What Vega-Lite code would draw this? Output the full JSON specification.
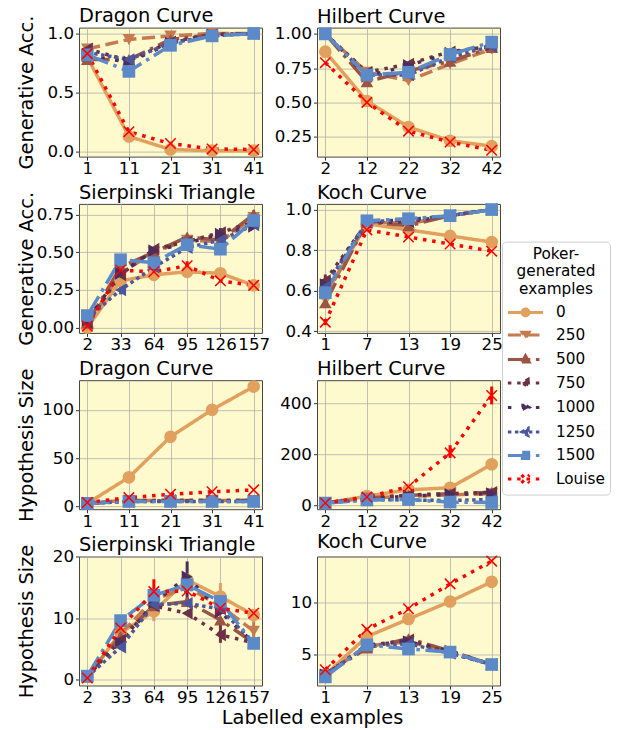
{
"$schema": "https://vega.github.io/schema/vega-lite/v6.json",
"padding": {"left": 15, "top": 5.6, "right": 5, "bottom": 4},
"background": "white",
"columns": 2,
"spacing": {"row": 47.3, "column": 55},
"bounds": "flush",
"data": {"values": [
{"p":"DA","s":"0","x":1,"y":0.80},{"p":"DA","s":"0","x":11,"y":0.13},{"p":"DA","s":"0","x":21,"y":0.02},{"p":"DA","s":"0","x":31,"y":0.01},{"p":"DA","s":"0","x":41,"y":0.01},
{"p":"DA","s":"250","x":1,"y":0.87},{"p":"DA","s":"250","x":11,"y":0.95},{"p":"DA","s":"250","x":21,"y":0.98},{"p":"DA","s":"250","x":31,"y":1.0},{"p":"DA","s":"250","x":41,"y":1.0},
{"p":"DA","s":"500","x":1,"y":0.78},{"p":"DA","s":"500","x":11,"y":0.78},{"p":"DA","s":"500","x":21,"y":0.95},{"p":"DA","s":"500","x":31,"y":0.99},{"p":"DA","s":"500","x":41,"y":1.0},
{"p":"DA","s":"750","x":1,"y":0.87},{"p":"DA","s":"750","x":11,"y":0.77},{"p":"DA","s":"750","x":21,"y":0.93},{"p":"DA","s":"750","x":31,"y":0.99},{"p":"DA","s":"750","x":41,"y":1.0},
{"p":"DA","s":"1000","x":1,"y":0.81},{"p":"DA","s":"1000","x":11,"y":0.76},{"p":"DA","s":"1000","x":21,"y":0.92},{"p":"DA","s":"1000","x":31,"y":0.99},{"p":"DA","s":"1000","x":41,"y":1.0},
{"p":"DA","s":"1250","x":1,"y":0.84},{"p":"DA","s":"1250","x":11,"y":0.78},{"p":"DA","s":"1250","x":21,"y":0.92},{"p":"DA","s":"1250","x":31,"y":0.98},{"p":"DA","s":"1250","x":41,"y":1.0},
{"p":"DA","s":"1500","x":1,"y":0.82},{"p":"DA","s":"1500","x":11,"y":0.68},{"p":"DA","s":"1500","x":21,"y":0.90},{"p":"DA","s":"1500","x":31,"y":0.98},{"p":"DA","s":"1500","x":41,"y":1.0},
{"p":"DA","s":"Louise","x":1,"y":0.83},{"p":"DA","s":"Louise","x":11,"y":0.17},{"p":"DA","s":"Louise","x":21,"y":0.07},{"p":"DA","s":"Louise","x":31,"y":0.025},{"p":"DA","s":"Louise","x":41,"y":0.02},

{"p":"HA","s":"0","x":2,"y":0.87},{"p":"HA","s":"0","x":12,"y":0.51},{"p":"HA","s":"0","x":22,"y":0.32},{"p":"HA","s":"0","x":32,"y":0.22},{"p":"HA","s":"0","x":42,"y":0.18},
{"p":"HA","s":"250","x":2,"y":1.0},{"p":"HA","s":"250","x":12,"y":0.72},{"p":"HA","s":"250","x":22,"y":0.66},{"p":"HA","s":"250","x":32,"y":0.78},{"p":"HA","s":"250","x":42,"y":0.89},
{"p":"HA","s":"500","x":2,"y":1.0},{"p":"HA","s":"500","x":12,"y":0.65},{"p":"HA","s":"500","x":22,"y":0.73},{"p":"HA","s":"500","x":32,"y":0.80},{"p":"HA","s":"500","x":42,"y":0.90},
{"p":"HA","s":"750","x":2,"y":1.0},{"p":"HA","s":"750","x":12,"y":0.72},{"p":"HA","s":"750","x":22,"y":0.78},{"p":"HA","s":"750","x":32,"y":0.87},{"p":"HA","s":"750","x":42,"y":0.91},
{"p":"HA","s":"1000","x":2,"y":1.0},{"p":"HA","s":"1000","x":12,"y":0.69},{"p":"HA","s":"1000","x":22,"y":0.77},{"p":"HA","s":"1000","x":32,"y":0.86},{"p":"HA","s":"1000","x":42,"y":0.92},
{"p":"HA","s":"1250","x":2,"y":1.0},{"p":"HA","s":"1250","x":12,"y":0.70},{"p":"HA","s":"1250","x":22,"y":0.70},{"p":"HA","s":"1250","x":32,"y":0.83},{"p":"HA","s":"1250","x":42,"y":0.91},
{"p":"HA","s":"1500","x":2,"y":1.0},{"p":"HA","s":"1500","x":12,"y":0.70},{"p":"HA","s":"1500","x":22,"y":0.72},{"p":"HA","s":"1500","x":32,"y":0.85},{"p":"HA","s":"1500","x":42,"y":0.94},
{"p":"HA","s":"Louise","x":2,"y":0.79},{"p":"HA","s":"Louise","x":12,"y":0.50},{"p":"HA","s":"Louise","x":22,"y":0.29},{"p":"HA","s":"Louise","x":32,"y":0.21},{"p":"HA","s":"Louise","x":42,"y":0.15},

{"p":"SA","s":"0","x":2,"y":0.0},{"p":"SA","s":"0","x":33,"y":0.31},{"p":"SA","s":"0","x":64,"y":0.35},{"p":"SA","s":"0","x":95,"y":0.37},{"p":"SA","s":"0","x":126,"y":0.36},{"p":"SA","s":"0","x":157,"y":0.28},
{"p":"SA","s":"250","x":2,"y":0.02},{"p":"SA","s":"250","x":33,"y":0.36},{"p":"SA","s":"250","x":64,"y":0.50},{"p":"SA","s":"250","x":95,"y":0.58},{"p":"SA","s":"250","x":126,"y":0.57},{"p":"SA","s":"250","x":157,"y":0.73},
{"p":"SA","s":"500","x":2,"y":0.03},{"p":"SA","s":"500","x":33,"y":0.40},{"p":"SA","s":"500","x":64,"y":0.50},{"p":"SA","s":"500","x":95,"y":0.60},{"p":"SA","s":"500","x":126,"y":0.58},{"p":"SA","s":"500","x":157,"y":0.75,"lo":0.72,"hi":0.78},
{"p":"SA","s":"750","x":2,"y":0.03},{"p":"SA","s":"750","x":33,"y":0.35},{"p":"SA","s":"750","x":64,"y":0.52},{"p":"SA","s":"750","x":95,"y":0.57},{"p":"SA","s":"750","x":126,"y":0.63},{"p":"SA","s":"750","x":157,"y":0.70},
{"p":"SA","s":"1000","x":2,"y":0.05},{"p":"SA","s":"1000","x":33,"y":0.36},{"p":"SA","s":"1000","x":64,"y":0.51},{"p":"SA","s":"1000","x":95,"y":0.56},{"p":"SA","s":"1000","x":126,"y":0.62,"lo":0.58,"hi":0.66},{"p":"SA","s":"1000","x":157,"y":0.67},
{"p":"SA","s":"1250","x":2,"y":0.06},{"p":"SA","s":"1250","x":33,"y":0.25,"lo":0.22,"hi":0.27},{"p":"SA","s":"1250","x":64,"y":0.40},{"p":"SA","s":"1250","x":95,"y":0.53},{"p":"SA","s":"1250","x":126,"y":0.58},{"p":"SA","s":"1250","x":157,"y":0.68},
{"p":"SA","s":"1500","x":2,"y":0.08},{"p":"SA","s":"1500","x":33,"y":0.45},{"p":"SA","s":"1500","x":64,"y":0.43},{"p":"SA","s":"1500","x":95,"y":0.55},{"p":"SA","s":"1500","x":126,"y":0.52},{"p":"SA","s":"1500","x":157,"y":0.71},
{"p":"SA","s":"Louise","x":2,"y":0.01},{"p":"SA","s":"Louise","x":33,"y":0.38},{"p":"SA","s":"Louise","x":64,"y":0.37},{"p":"SA","s":"Louise","x":95,"y":0.41,"lo":0.38,"hi":0.44},{"p":"SA","s":"Louise","x":126,"y":0.31},{"p":"SA","s":"Louise","x":157,"y":0.28},

{"p":"KA","s":"0","x":1,"y":0.58},{"p":"KA","s":"0","x":7,"y":0.93},{"p":"KA","s":"0","x":13,"y":0.90},{"p":"KA","s":"0","x":19,"y":0.87},{"p":"KA","s":"0","x":25,"y":0.84},
{"p":"KA","s":"250","x":1,"y":0.57},{"p":"KA","s":"250","x":7,"y":0.94},{"p":"KA","s":"250","x":13,"y":0.93},{"p":"KA","s":"250","x":19,"y":0.97},{"p":"KA","s":"250","x":25,"y":1.0},
{"p":"KA","s":"500","x":1,"y":0.54,"lo":0.52,"hi":0.60},{"p":"KA","s":"500","x":7,"y":0.94},{"p":"KA","s":"500","x":13,"y":0.92},{"p":"KA","s":"500","x":19,"y":0.97},{"p":"KA","s":"500","x":25,"y":1.0},
{"p":"KA","s":"750","x":1,"y":0.65,"lo":0.60,"hi":0.68},{"p":"KA","s":"750","x":7,"y":0.935},{"p":"KA","s":"750","x":13,"y":0.94},{"p":"KA","s":"750","x":19,"y":0.97},{"p":"KA","s":"750","x":25,"y":1.0},
{"p":"KA","s":"1000","x":1,"y":0.63},{"p":"KA","s":"1000","x":7,"y":0.94},{"p":"KA","s":"1000","x":13,"y":0.95},{"p":"KA","s":"1000","x":19,"y":0.97},{"p":"KA","s":"1000","x":25,"y":1.0},
{"p":"KA","s":"1250","x":1,"y":0.62},{"p":"KA","s":"1250","x":7,"y":0.94},{"p":"KA","s":"1250","x":13,"y":0.95},{"p":"KA","s":"1250","x":19,"y":0.97},{"p":"KA","s":"1250","x":25,"y":1.0},
{"p":"KA","s":"1500","x":1,"y":0.59},{"p":"KA","s":"1500","x":7,"y":0.945},{"p":"KA","s":"1500","x":13,"y":0.955},{"p":"KA","s":"1500","x":19,"y":0.97},{"p":"KA","s":"1500","x":25,"y":1.0},
{"p":"KA","s":"Louise","x":1,"y":0.445,"lo":0.43,"hi":0.46},{"p":"KA","s":"Louise","x":7,"y":0.90},{"p":"KA","s":"Louise","x":13,"y":0.865},{"p":"KA","s":"Louise","x":19,"y":0.83},{"p":"KA","s":"Louise","x":25,"y":0.795},

{"p":"DS","s":"0","x":1,"y":3},{"p":"DS","s":"0","x":11,"y":30},{"p":"DS","s":"0","x":21,"y":72},{"p":"DS","s":"0","x":31,"y":100},{"p":"DS","s":"0","x":41,"y":124},
{"p":"DS","s":"250","x":1,"y":4},{"p":"DS","s":"250","x":11,"y":6},{"p":"DS","s":"250","x":21,"y":6},{"p":"DS","s":"250","x":31,"y":6},{"p":"DS","s":"250","x":41,"y":6},
{"p":"DS","s":"500","x":1,"y":3},{"p":"DS","s":"500","x":11,"y":6},{"p":"DS","s":"500","x":21,"y":6},{"p":"DS","s":"500","x":31,"y":6},{"p":"DS","s":"500","x":41,"y":6},
{"p":"DS","s":"750","x":1,"y":3},{"p":"DS","s":"750","x":11,"y":5.5},{"p":"DS","s":"750","x":21,"y":6},{"p":"DS","s":"750","x":31,"y":6},{"p":"DS","s":"750","x":41,"y":6},
{"p":"DS","s":"1000","x":1,"y":3},{"p":"DS","s":"1000","x":11,"y":5.5},{"p":"DS","s":"1000","x":21,"y":5.5},{"p":"DS","s":"1000","x":31,"y":5.5},{"p":"DS","s":"1000","x":41,"y":5.5},
{"p":"DS","s":"1250","x":1,"y":3},{"p":"DS","s":"1250","x":11,"y":5},{"p":"DS","s":"1250","x":21,"y":5},{"p":"DS","s":"1250","x":31,"y":5},{"p":"DS","s":"1250","x":41,"y":5},
{"p":"DS","s":"1500","x":1,"y":3},{"p":"DS","s":"1500","x":11,"y":5},{"p":"DS","s":"1500","x":21,"y":5},{"p":"DS","s":"1500","x":31,"y":5},{"p":"DS","s":"1500","x":41,"y":5},
{"p":"DS","s":"Louise","x":1,"y":4},{"p":"DS","s":"Louise","x":11,"y":9},{"p":"DS","s":"Louise","x":21,"y":12.5},{"p":"DS","s":"Louise","x":31,"y":15},{"p":"DS","s":"Louise","x":41,"y":17},

{"p":"HS","s":"0","x":2,"y":8},{"p":"HS","s":"0","x":12,"y":35},{"p":"HS","s":"0","x":22,"y":60},{"p":"HS","s":"0","x":32,"y":68},{"p":"HS","s":"0","x":42,"y":160},
{"p":"HS","s":"250","x":2,"y":8},{"p":"HS","s":"250","x":12,"y":28},{"p":"HS","s":"250","x":22,"y":35},{"p":"HS","s":"250","x":32,"y":40},{"p":"HS","s":"250","x":42,"y":45},
{"p":"HS","s":"500","x":2,"y":8},{"p":"HS","s":"500","x":12,"y":28},{"p":"HS","s":"500","x":22,"y":38},{"p":"HS","s":"500","x":32,"y":45},{"p":"HS","s":"500","x":42,"y":50},
{"p":"HS","s":"750","x":2,"y":8},{"p":"HS","s":"750","x":12,"y":27},{"p":"HS","s":"750","x":22,"y":40},{"p":"HS","s":"750","x":32,"y":45},{"p":"HS","s":"750","x":42,"y":50},
{"p":"HS","s":"1000","x":2,"y":8},{"p":"HS","s":"1000","x":12,"y":25},{"p":"HS","s":"1000","x":22,"y":35},{"p":"HS","s":"1000","x":32,"y":42},{"p":"HS","s":"1000","x":42,"y":45},
{"p":"HS","s":"1250","x":2,"y":8},{"p":"HS","s":"1250","x":12,"y":22},{"p":"HS","s":"1250","x":22,"y":20},{"p":"HS","s":"1250","x":32,"y":18},{"p":"HS","s":"1250","x":42,"y":22},
{"p":"HS","s":"1500","x":2,"y":8},{"p":"HS","s":"1500","x":12,"y":20},{"p":"HS","s":"1500","x":22,"y":22},{"p":"HS","s":"1500","x":32,"y":12},{"p":"HS","s":"1500","x":42,"y":10},
{"p":"HS","s":"Louise","x":2,"y":8},{"p":"HS","s":"Louise","x":12,"y":32},{"p":"HS","s":"Louise","x":22,"y":72},{"p":"HS","s":"Louise","x":32,"y":205,"lo":185,"hi":235},{"p":"HS","s":"Louise","x":42,"y":430,"lo":395,"hi":465},

{"p":"SS","s":"0","x":2,"y":0.5},{"p":"SS","s":"0","x":33,"y":7.6},{"p":"SS","s":"0","x":64,"y":11.1,"lo":9.5,"hi":12.5},{"p":"SS","s":"0","x":95,"y":16.2},{"p":"SS","s":"0","x":126,"y":13.5,"lo":11,"hi":15.7},{"p":"SS","s":"0","x":157,"y":10.5},
{"p":"SS","s":"250","x":2,"y":0.5},{"p":"SS","s":"250","x":33,"y":7.5},{"p":"SS","s":"250","x":64,"y":13},{"p":"SS","s":"250","x":95,"y":15},{"p":"SS","s":"250","x":126,"y":12},{"p":"SS","s":"250","x":157,"y":7.9,"lo":6.8,"hi":9.5},
{"p":"SS","s":"500","x":2,"y":0.5},{"p":"SS","s":"500","x":33,"y":7},{"p":"SS","s":"500","x":64,"y":12},{"p":"SS","s":"500","x":95,"y":12.7},{"p":"SS","s":"500","x":126,"y":9.7},{"p":"SS","s":"500","x":157,"y":6},
{"p":"SS","s":"750","x":2,"y":0.5},{"p":"SS","s":"750","x":33,"y":6.5},{"p":"SS","s":"750","x":64,"y":12},{"p":"SS","s":"750","x":95,"y":10.8},{"p":"SS","s":"750","x":126,"y":7.3,"lo":6,"hi":9},{"p":"SS","s":"750","x":157,"y":6},
{"p":"SS","s":"1000","x":2,"y":0.5},{"p":"SS","s":"1000","x":33,"y":6},{"p":"SS","s":"1000","x":64,"y":12.5},{"p":"SS","s":"1000","x":95,"y":16.7,"lo":12.5,"hi":19.2},{"p":"SS","s":"1000","x":126,"y":11},{"p":"SS","s":"1000","x":157,"y":6},
{"p":"SS","s":"1250","x":2,"y":0.5},{"p":"SS","s":"1250","x":33,"y":5.3},{"p":"SS","s":"1250","x":64,"y":12.2},{"p":"SS","s":"1250","x":95,"y":12.4},{"p":"SS","s":"1250","x":126,"y":11.5},{"p":"SS","s":"1250","x":157,"y":6},
{"p":"SS","s":"1500","x":2,"y":0.6},{"p":"SS","s":"1500","x":33,"y":9.6,"lo":7.8,"hi":10.5},{"p":"SS","s":"1500","x":64,"y":13.7},{"p":"SS","s":"1500","x":95,"y":15.4},{"p":"SS","s":"1500","x":126,"y":12.7},{"p":"SS","s":"1500","x":157,"y":5.9},
{"p":"SS","s":"Louise","x":2,"y":0.3},{"p":"SS","s":"Louise","x":33,"y":8.4},{"p":"SS","s":"Louise","x":64,"y":14.3,"lo":12.4,"hi":16.3},{"p":"SS","s":"Louise","x":95,"y":14.4},{"p":"SS","s":"Louise","x":126,"y":11.6},{"p":"SS","s":"Louise","x":157,"y":10.8},

{"p":"KS","s":"0","x":1,"y":3},{"p":"KS","s":"0","x":7,"y":6.7},{"p":"KS","s":"0","x":13,"y":8.4},{"p":"KS","s":"0","x":19,"y":10.1},{"p":"KS","s":"0","x":25,"y":12.0},
{"p":"KS","s":"250","x":1,"y":3},{"p":"KS","s":"250","x":7,"y":5.8},{"p":"KS","s":"250","x":13,"y":6.2},{"p":"KS","s":"250","x":19,"y":5.2},{"p":"KS","s":"250","x":25,"y":4.0},
{"p":"KS","s":"500","x":1,"y":3},{"p":"KS","s":"500","x":7,"y":5.6},{"p":"KS","s":"500","x":13,"y":6.5},{"p":"KS","s":"500","x":19,"y":5.3},{"p":"KS","s":"500","x":25,"y":4.0},
{"p":"KS","s":"750","x":1,"y":3},{"p":"KS","s":"750","x":7,"y":5.8},{"p":"KS","s":"750","x":13,"y":6.4},{"p":"KS","s":"750","x":19,"y":5.1},{"p":"KS","s":"750","x":25,"y":4.0},
{"p":"KS","s":"1000","x":1,"y":3},{"p":"KS","s":"1000","x":7,"y":5.9},{"p":"KS","s":"1000","x":13,"y":6.2},{"p":"KS","s":"1000","x":19,"y":5.3},{"p":"KS","s":"1000","x":25,"y":4.0},
{"p":"KS","s":"1250","x":1,"y":3},{"p":"KS","s":"1250","x":7,"y":5.8},{"p":"KS","s":"1250","x":13,"y":6.0},{"p":"KS","s":"1250","x":19,"y":5.1},{"p":"KS","s":"1250","x":25,"y":4.0},
{"p":"KS","s":"1500","x":1,"y":2.8},{"p":"KS","s":"1500","x":7,"y":5.9},{"p":"KS","s":"1500","x":13,"y":5.5},{"p":"KS","s":"1500","x":19,"y":5.2},{"p":"KS","s":"1500","x":25,"y":4.0},
{"p":"KS","s":"Louise","x":1,"y":3.5},{"p":"KS","s":"Louise","x":7,"y":7.4},{"p":"KS","s":"Louise","x":13,"y":9.4},{"p":"KS","s":"Louise","x":19,"y":11.8},{"p":"KS","s":"Louise","x":25,"y":14.0}
]},
"concat": [
{"title": {"text": "Dragon Curve", "offset": -11.7}, "width": 183, "height": 129,
 "transform": [{"filter": "datum.p === 'DA'"}],
 "encoding": {
  "x": {"field": "x", "type": "quantitative", "scale": {"domain": [-1, 43], "nice": false, "zero": false}, "axis": {"values": [1,11,21,31,41], "title": null}},
  "y": {"field": "y", "type": "quantitative", "scale": {"domain": [-0.04, 1.05], "nice": false, "zero": false}, "axis": {"values": [0,0.5,1], "format": ".1f", "title": "Generative Acc."}}},
 "layer": [
  {"mark": {"type": "line", "strokeWidth": 3.5, "strokeCap": "butt"},
   "encoding": {
    "color": {"field": "s", "type": "nominal", "scale": {"domain": ["0","250","500","750","1000","1250","1500","Louise"], "range": ["#E2A05F","#C57A50","#9C5545","#6D3045","#4B2D5E","#4B569C","#5C89C8","#FF0000"]},
     "legend": {"title": ["Poker-","generated","examples"], "orient": "none", "legendX": 423, "legendY": 214,
      "encode": {"symbols": {"update": {
        "shape": {"signal": "datum.value==='0'?'M-2.2,0H2.2M0.42,0A0.42,0.42,0,1,1,-0.42,0A0.42,0.42,0,1,1,0.42,0Z':datum.value==='250'?'M-2.2,0H-0.575M0.125,0H1.75M-0.45,-0.33L0.45,-0.33L0,0.45Z':datum.value==='500'?'M-2.2,0H0.6M1.3,0H1.74M-0.45,0.33L0.45,0.33L0,-0.45Z':datum.value==='750'?'M-2.2,0H-1.76M-1.04,0H-0.6M0.125,0H0.56M1.29,0H1.72M0.33,-0.45L0.33,0.45L-0.45,0Z':datum.value==='1000'?'M-2.2,0H-1.76M-0.45,0H-0.01M1.3,0H1.74M-0.33,-0.45L-0.33,0.45L0.45,0Z':datum.value==='1250'?'M-2.2,0H-1.76M-1.33,0H-0.89M-0.45,0H-0.01M0.43,0H0.86M1.3,0H1.74M0.33,-0.45L0.33,0.45L-0.45,0Z':datum.value==='1500'?'M-2.2,0H0.6M1.3,0H1.74M-0.4,-0.4H0.4V0.4H-0.4Z':'M-2.2,0H-1.76M-1.04,0H-0.6M0.125,0H0.56M1.29,0H1.72M-0.5,-0.5L0.5,0.5M-0.5,0.5L0.5,-0.5'"},
        "fill": {"scale": "color", "field": "value"},
        "stroke": {"scale": "color", "field": "value"},
        "strokeDash": {"value": [1, 0]},
        "strokeWidth": {"value": 3},
        "opacity": {"value": 1}}}}}},
    "strokeDash": {"field": "s", "type": "nominal", "scale": {"domain": ["0","250","500","750","1000","1250","1500","Louise"], "range": [[1,0],[13,5.6],[22.4,5.6,3.5,5.6],[3.5,5.8],[3.5,10.5],[3.5,3.5],[22.4,5.6,3.5,5.6],[3.5,5.8]]}, "legend": null}}},
  {"transform": [{"filter": "datum.s !== 'Louise'"}], "mark": {"type": "point", "filled": true, "size": 160, "opacity": 1},
   "encoding": {"color": {"field": "s", "type": "nominal", "legend": null},
    "shape": {"field": "s", "type": "nominal", "scale": {"domain": ["0","250","500","750","1000","1250","1500"], "range": ["circle","triangle-down","triangle-up","triangle-left","triangle-right","triangle-left","square"]}, "legend": null}}},
  {"transform": [{"filter": "datum.s === 'Louise'"}], "mark": {"type": "point", "shape": "M-1,-1L1,1M-1,1L1,-1", "filled": false, "color": "#FF0000", "strokeWidth": 1.5, "size": 110, "opacity": 1}}
 ]},
{"title": {"text": "Hilbert Curve", "offset": -1.05}, "width": 183, "height": 129,
 "transform": [{"filter": "datum.p === 'HA'"}],
 "encoding": {
  "x": {"field": "x", "type": "quantitative", "scale": {"domain": [0, 44], "nice": false, "zero": false}, "axis": {"values": [2,12,22,32,42], "title": null}},
  "y": {"field": "y", "type": "quantitative", "scale": {"domain": [0.104, 1.046], "nice": false, "zero": false}, "axis": {"values": [0.25,0.5,0.75,1], "format": ".2f", "title": null}}},
 "layer": [
  {"mark": {"type": "line", "strokeWidth": 3.5, "strokeCap": "butt"},
   "encoding": {"color": {"field": "s", "type": "nominal", "legend": null}, "strokeDash": {"field": "s", "type": "nominal", "legend": null}}},
  {"transform": [{"filter": "datum.s !== 'Louise'"}], "mark": {"type": "point", "filled": true, "size": 160, "opacity": 1},
   "encoding": {"color": {"field": "s", "type": "nominal", "legend": null}, "shape": {"field": "s", "type": "nominal", "legend": null}}},
  {"transform": [{"filter": "datum.s === 'Louise'"}], "mark": {"type": "point", "shape": "M-1,-1L1,1M-1,1L1,-1", "filled": false, "color": "#FF0000", "strokeWidth": 1.5, "size": 110, "opacity": 1}}
 ]},
{"title": {"text": "Sierpinski Triangle", "offset": -11.7}, "width": 183, "height": 129,
 "transform": [{"filter": "datum.p === 'SA'"}],
 "encoding": {
  "x": {"field": "x", "type": "quantitative", "scale": {"domain": [-5.75, 164.75], "nice": false, "zero": false}, "axis": {"values": [2,33,64,95,126,157], "title": null}},
  "y": {"field": "y", "type": "quantitative", "scale": {"domain": [-0.035, 0.82], "nice": false, "zero": false}, "axis": {"values": [0,0.25,0.5,0.75], "format": ".2f", "title": "Generative Acc."}}},
 "layer": [
  {"transform": [{"filter": "isValid(datum.lo)"}], "mark": {"type": "rule", "strokeWidth": 3},
   "encoding": {"y": {"field": "lo", "type": "quantitative"}, "y2": {"field": "hi"}, "color": {"field": "s", "type": "nominal", "legend": null}}},
  {"mark": {"type": "line", "strokeWidth": 3.5, "strokeCap": "butt"},
   "encoding": {"color": {"field": "s", "type": "nominal", "legend": null}, "strokeDash": {"field": "s", "type": "nominal", "legend": null}}},
  {"transform": [{"filter": "datum.s !== 'Louise'"}], "mark": {"type": "point", "filled": true, "size": 160, "opacity": 1},
   "encoding": {"color": {"field": "s", "type": "nominal", "legend": null}, "shape": {"field": "s", "type": "nominal", "legend": null}}},
  {"transform": [{"filter": "datum.s === 'Louise'"}], "mark": {"type": "point", "shape": "M-1,-1L1,1M-1,1L1,-1", "filled": false, "color": "#FF0000", "strokeWidth": 1.5, "size": 110, "opacity": 1}}
 ]},
{"title": {"text": "Koch Curve", "offset": -1.65}, "width": 183, "height": 129,
 "transform": [{"filter": "datum.p === 'KA'"}],
 "encoding": {
  "x": {"field": "x", "type": "quantitative", "scale": {"domain": [-0.2, 26.2], "nice": false, "zero": false}, "axis": {"values": [1,7,13,19,25], "title": null}},
  "y": {"field": "y", "type": "quantitative", "scale": {"domain": [0.392, 1.028], "nice": false, "zero": false}, "axis": {"values": [0.4,0.6,0.8,1], "format": ".1f", "title": null}}},
 "layer": [
  {"transform": [{"filter": "isValid(datum.lo)"}], "mark": {"type": "rule", "strokeWidth": 3},
   "encoding": {"y": {"field": "lo", "type": "quantitative"}, "y2": {"field": "hi"}, "color": {"field": "s", "type": "nominal", "legend": null}}},
  {"mark": {"type": "line", "strokeWidth": 3.5, "strokeCap": "butt"},
   "encoding": {"color": {"field": "s", "type": "nominal", "legend": null}, "strokeDash": {"field": "s", "type": "nominal", "legend": null}}},
  {"transform": [{"filter": "datum.s !== 'Louise'"}], "mark": {"type": "point", "filled": true, "size": 160, "opacity": 1},
   "encoding": {"color": {"field": "s", "type": "nominal", "legend": null}, "shape": {"field": "s", "type": "nominal", "legend": null}}},
  {"transform": [{"filter": "datum.s === 'Louise'"}], "mark": {"type": "point", "shape": "M-1,-1L1,1M-1,1L1,-1", "filled": false, "color": "#FF0000", "strokeWidth": 1.5, "size": 110, "opacity": 1}}
 ]},
{"title": {"text": "Dragon Curve", "offset": -11.35}, "width": 183, "height": 129,
 "transform": [{"filter": "datum.p === 'DS'"}],
 "encoding": {
  "x": {"field": "x", "type": "quantitative", "scale": {"domain": [-1, 43], "nice": false, "zero": false}, "axis": {"values": [1,11,21,31,41], "title": null}},
  "y": {"field": "y", "type": "quantitative", "scale": {"domain": [-3, 130.6], "nice": false, "zero": false}, "axis": {"values": [0,50,100], "format": "d", "title": "Hypothesis Size"}}},
 "layer": [
  {"mark": {"type": "line", "strokeWidth": 3.5, "strokeCap": "butt"},
   "encoding": {"color": {"field": "s", "type": "nominal", "legend": null}, "strokeDash": {"field": "s", "type": "nominal", "legend": null}}},
  {"transform": [{"filter": "datum.s !== 'Louise'"}], "mark": {"type": "point", "filled": true, "size": 160, "opacity": 1},
   "encoding": {"color": {"field": "s", "type": "nominal", "legend": null}, "shape": {"field": "s", "type": "nominal", "legend": null}}},
  {"transform": [{"filter": "datum.s === 'Louise'"}], "mark": {"type": "point", "shape": "M-1,-1L1,1M-1,1L1,-1", "filled": false, "color": "#FF0000", "strokeWidth": 1.5, "size": 110, "opacity": 1}}
 ]},
{"title": {"text": "Hilbert Curve", "offset": 1}, "width": 183, "height": 129,
 "transform": [{"filter": "datum.p === 'HS'"}],
 "encoding": {
  "x": {"field": "x", "type": "quantitative", "scale": {"domain": [0, 44], "nice": false, "zero": false}, "axis": {"values": [2,12,22,32,42], "title": null}},
  "y": {"field": "y", "type": "quantitative", "scale": {"domain": [-16, 490], "nice": false, "zero": false}, "axis": {"values": [0,200,400], "format": "d", "title": null}}},
 "layer": [
  {"transform": [{"filter": "isValid(datum.lo)"}], "mark": {"type": "rule", "strokeWidth": 3},
   "encoding": {"y": {"field": "lo", "type": "quantitative"}, "y2": {"field": "hi"}, "color": {"field": "s", "type": "nominal", "legend": null}}},
  {"mark": {"type": "line", "strokeWidth": 3.5, "strokeCap": "butt"},
   "encoding": {"color": {"field": "s", "type": "nominal", "legend": null}, "strokeDash": {"field": "s", "type": "nominal", "legend": null}}},
  {"transform": [{"filter": "datum.s !== 'Louise'"}], "mark": {"type": "point", "filled": true, "size": 160, "opacity": 1},
   "encoding": {"color": {"field": "s", "type": "nominal", "legend": null}, "shape": {"field": "s", "type": "nominal", "legend": null}}},
  {"transform": [{"filter": "datum.s === 'Louise'"}], "mark": {"type": "point", "shape": "M-1,-1L1,1M-1,1L1,-1", "filled": false, "color": "#FF0000", "strokeWidth": 1.5, "size": 110, "opacity": 1}}
 ]},
{"title": {"text": "Sierpinski Triangle", "offset": -11.35}, "width": 183, "height": 129,
 "transform": [{"filter": "datum.p === 'SS'"}],
 "encoding": {
  "x": {"field": "x", "type": "quantitative", "scale": {"domain": [-5.75, 164.75], "nice": false, "zero": false}, "axis": {"values": [2,33,64,95,126,157], "title": null}},
  "y": {"field": "y", "type": "quantitative", "scale": {"domain": [-0.92, 20], "nice": false, "zero": false}, "axis": {"values": [0,10,20], "format": "d", "title": "Hypothesis Size"}}},
 "layer": [
  {"transform": [{"filter": "isValid(datum.lo)"}], "mark": {"type": "rule", "strokeWidth": 3},
   "encoding": {"y": {"field": "lo", "type": "quantitative"}, "y2": {"field": "hi"}, "color": {"field": "s", "type": "nominal", "legend": null}}},
  {"mark": {"type": "line", "strokeWidth": 3.5, "strokeCap": "butt"},
   "encoding": {"color": {"field": "s", "type": "nominal", "legend": null}, "strokeDash": {"field": "s", "type": "nominal", "legend": null}}},
  {"transform": [{"filter": "datum.s !== 'Louise'"}], "mark": {"type": "point", "filled": true, "size": 160, "opacity": 1},
   "encoding": {"color": {"field": "s", "type": "nominal", "legend": null}, "shape": {"field": "s", "type": "nominal", "legend": null}}},
  {"transform": [{"filter": "datum.s === 'Louise'"}], "mark": {"type": "point", "shape": "M-1,-1L1,1M-1,1L1,-1", "filled": false, "color": "#FF0000", "strokeWidth": 1.5, "size": 110, "opacity": 1}}
 ]},
{"title": {"text": "Koch Curve", "offset": 1}, "width": 183, "height": 129,
 "transform": [{"filter": "datum.p === 'KS'"}],
 "encoding": {
  "x": {"field": "x", "type": "quantitative", "scale": {"domain": [-0.2, 26.2], "nice": false, "zero": false}, "axis": {"values": [1,7,13,19,25], "title": "Labelled examples", "titleX": -5, "titleY": 38.5, "titleBaseline": "alphabetic", "titleAlign": "center", "titleAngle": 0}},
  "y": {"field": "y", "type": "quantitative", "scale": {"domain": [1.97, 14.45], "nice": false, "zero": false}, "axis": {"values": [5,10], "format": "d", "title": null}}},
 "layer": [
  {"mark": {"type": "line", "strokeWidth": 3.5, "strokeCap": "butt"},
   "encoding": {"color": {"field": "s", "type": "nominal", "legend": null}, "strokeDash": {"field": "s", "type": "nominal", "legend": null}}},
  {"transform": [{"filter": "datum.s !== 'Louise'"}], "mark": {"type": "point", "filled": true, "size": 160, "opacity": 1},
   "encoding": {"color": {"field": "s", "type": "nominal", "legend": null}, "shape": {"field": "s", "type": "nominal", "legend": null}}},
  {"transform": [{"filter": "datum.s === 'Louise'"}], "mark": {"type": "point", "shape": "M-1,-1L1,1M-1,1L1,-1", "filled": false, "color": "#FF0000", "strokeWidth": 1.5, "size": 110, "opacity": 1}}
 ]}
],
"resolve": {"scale": {"x": "independent", "y": "independent", "color": "shared", "shape": "shared", "strokeDash": "shared"}, "legend": {"color": "shared"}},
"config": {
 "font": "DejaVu Sans",
 "view": {"fill": "#FFFACD", "stroke": "#444444", "strokeWidth": 1},
 "axis": {"grid": true, "gridColor": "#b0b0b0", "gridWidth": 0.8, "domain": false, "ticks": true, "tickColor": "#333333", "tickSize": 3.5, "tickWidth": 1, "labelFontSize": 16.7, "labelColor": "#000000", "labelFont": "DejaVu Sans", "labelOverlap": false, "labelFlush": false, "titleFontSize": 19.4, "titleFontWeight": "normal", "titleColor": "#000000", "titleFont": "DejaVu Sans"},
 "axisX": {"labelPadding": 0.5},
 "axisY": {"labelPadding": 2, "titleX": -47, "titleY": 64.5, "titleAngle": 270, "titleBaseline": "alphabetic", "titleAlign": "center"},
 "title": {"fontSize": 19.4, "fontWeight": "normal", "anchor": "start", "frame": "group", "color": "#000000", "font": "DejaVu Sans"},
 "legend": {"titleFontSize": 15.3, "titleFontWeight": "normal", "titleColor": "#000000", "titleFont": "DejaVu Sans", "labelFontSize": 15.3, "labelColor": "#000000", "labelFont": "DejaVu Sans", "strokeColor": "#d0d0d0", "fillColor": "#ffffff", "cornerRadius": 4, "padding": 5, "symbolSize": 256, "symbolStrokeWidth": 3, "symbolOffset": 9, "labelOffset": 21, "rowPadding": 3.5, "titleAnchor": "middle", "titleAlign": "center", "titleLineHeight": 17.5, "titlePadding": 6}
}
}
